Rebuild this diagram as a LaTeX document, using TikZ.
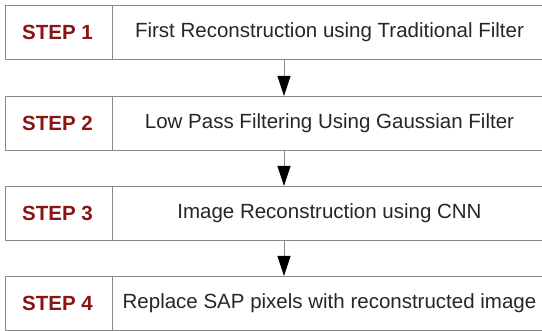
\documentclass[tikz,border=0pt]{standalone}
\usepackage{fontspec}
\setmainfont{Liberation Sans}
\usetikzlibrary{arrows.meta}
\definecolor{stepred}{HTML}{8B1515}
\definecolor{boxline}{HTML}{8A8A8A}
\tikzset{
  stepcell/.style={draw=boxline, line width=1pt, minimum height=54pt, inner sep=0pt, anchor=north west},
  steplabel/.style={font=\fontsize{20.5}{23}\selectfont\bfseries, text=stepred},
  desclabel/.style={font=\fontsize{20.5}{23}\selectfont, text=black!85},
  flowarrow/.style={draw=boxline, line width=0.8pt, -{Triangle[length=20pt,width=13pt,fill=black,color=black]}}
}
\begin{document}
\begin{tikzpicture}[x=1pt,y=-1pt]
\useasboundingbox (0,0) rectangle (542,331);
\foreach \i/\y/\txt in {1/5/First Reconstruction using Traditional Filter,
                        2/96/Low Pass Filtering Using Gaussian Filter,
                        3/186/Image Reconstruction using CNN,
                        4/276/Replace SAP pixels with reconstructed image}{
  \node[stepcell, minimum width=107pt] (s\i) at (5,\y) {};
  \node[stepcell, minimum width=440pt] (d\i) at (112,\y) {};
  \node[steplabel] (sl\i) at (57.5,\y+27) {STEP \i};
  \node[desclabel] (dl\i) at (329.5,\y+27) {\txt};
}
\coordinate (a1) at (284,59);
\coordinate (b1) at (284,96);
\coordinate (a2) at (284,150);
\coordinate (b2) at (284,186);
\coordinate (a3) at (284,240);
\coordinate (b3) at (284,276);
\draw[flowarrow] (a1) -- (b1);
\draw[flowarrow] (a2) -- (b2);
\draw[flowarrow] (a3) -- (b3);
\end{tikzpicture}
\end{document}
